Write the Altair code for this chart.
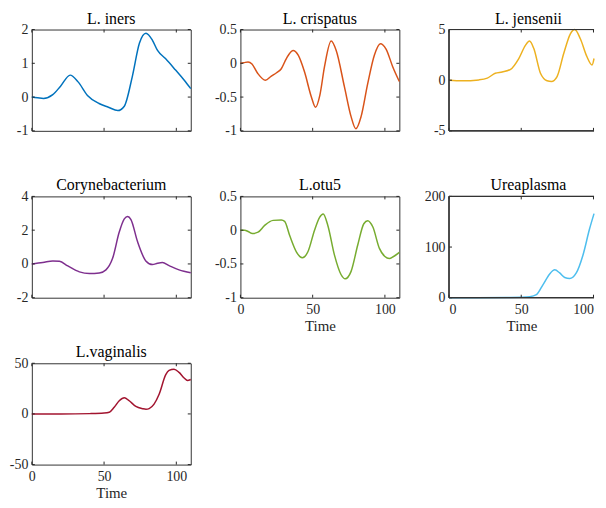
import altair as alt
import pandas as pd

FONT = "Liberation Serif"
W, H = 160, 102
W_CUT = 146  # visible width of the third column (the window cuts it)

titles = ["L. iners", "L. crispatus", "L. jensenii", "Corynebacterium", "L.otu5", "Ureaplasma", "L.vaginalis"]
colors = ["#0072BD", "#D95319", "#EDB120", "#7E2F8E", "#77AC30", "#4DBEEE", "#A2142F"]
y_domains = [[-1, 2], [-1, 0.5], [-5, 5], [-2, 4], [-1, 0.5], [0, 200], [-50, 50]]
y_ticks = [[-1, 0, 1, 2], [-1, -0.5, 0, 0.5], [-5, 0, 5], [-2, 0, 2, 4], [-1, -0.5, 0, 0.5], [0, 100, 200], [-50, 0, 50]]
x_ticks = [0, 50, 100]
x_max = 110
show_x = [False, False, False, False, True, True, True]
cut_panel = [False, False, True, False, False, True, False]

iners_t = [0, 4, 8, 14.5, 20, 26.5, 32, 38.5, 46.5, 53, 59.5, 64, 69.5, 74.5, 79, 83.5, 87, 92.5, 99.5, 105.5, 110]
iners_v = [0, -0.02, -0.04, 0.07, 0.33, 0.65, 0.45, 0.05, -0.19, -0.3, -0.40, -0.27, 0.6, 1.6, 1.89, 1.68, 1.38, 1.14, 0.8, 0.5, 0.25]

crispatus_t = [0, 2.5, 5.3, 8, 12, 17.3, 21.4, 25, 28.3, 31.8, 36.4, 40, 44.4, 49, 52, 55, 58.2, 62.8, 66.3, 72, 76.6, 79.9, 83.5, 88.1, 92.7, 96.9, 100.8, 105.4, 110]
crispatus_v = [0, 0.01, 0.02, -0.01, -0.15, -0.25, -0.19, -0.14, -0.08, 0.07, 0.19, 0.12, -0.13, -0.49, -0.65, -0.47, -0.05, 0.33, 0.19, -0.35, -0.79, -0.97, -0.79, -0.30, 0.12, 0.29, 0.21, -0.05, -0.27]

jensenii_t = [0, 9, 20.7, 26.5, 32, 36.8, 42.6, 48.3, 52.9, 55.7, 58.7, 63.3, 67.9, 70.9, 74.8, 79.4, 84, 87, 90.9, 95.5, 99, 102.4, 106, 110]
jensenii_v = [0, -0.06, 0.03, 0.2, 0.68, 0.81, 1.07, 2.14, 3.44, 3.86, 3.12, 0.68, -0.06, -0.13, 0.36, 2.63, 4.58, 5.0, 4.09, 2.31, 1.5, 2.14, 2.8, 3.5]

coryne_t = [0, 7.6, 14.5, 19.1, 24.9, 32.9, 39.8, 46.7, 51.3, 55.9, 60.5, 64, 66.3, 68.6, 73.2, 78.9, 83.5, 87, 90.4, 95, 101.9, 110]
coryne_v = [0, 0.08, 0.18, 0.16, -0.12, -0.47, -0.57, -0.53, -0.35, 0.33, 1.89, 2.67, 2.81, 2.63, 1.31, 0.18, -0.04, 0.04, 0.08, -0.1, -0.35, -0.52]

otu5_t = [0, 3, 5.3, 8.3, 12.2, 16.8, 22.6, 28.3, 30.6, 34.1, 38.7, 42.8, 46.7, 51.3, 54.8, 57.3, 60.5, 65.1, 69.7, 72.5, 76.6, 81.2, 85.4, 88.1, 91.6, 96.2, 100, 103, 106, 110]
otu5_v = [0, 0, -0.02, -0.05, -0.03, 0.07, 0.145, 0.15, 0.13, -0.08, -0.32, -0.41, -0.32, 0, 0.19, 0.24, 0.07, -0.37, -0.66, -0.72, -0.61, -0.22, 0.095, 0.14, 0.05, -0.27, -0.39, -0.42, -0.39, -0.33]

urea_t = [0, 20, 40, 50, 55.9, 60.5, 65.1, 69.7, 73.2, 76.6, 80.1, 83.5, 88.1, 92.7, 97.3, 100.8, 103.6, 106, 110]
urea_v = [0, 0, 0.5, 1, 2, 6, 26, 47, 55, 49, 40, 38, 49, 84, 136, 166, 174, 175, 170]

vaginalis_t = [0, 20, 40, 50, 53.6, 57, 60.5, 64, 67.4, 72, 76.6, 79, 81.2, 84.6, 88.1, 92.7, 95, 98.4, 101.9, 105.4, 107.7, 110]
vaginalis_v = [0, 0, 0.3, 0.8, 1.6, 6.5, 13, 16, 13, 7.4, 5.2, 4.6, 5.3, 9.7, 19.4, 38.7, 42.9, 44.2, 41, 35.5, 33, 34]

series = [
    (iners_t, iners_v), (crispatus_t, crispatus_v), (jensenii_t, jensenii_v),
    (coryne_t, coryne_v), (otu5_t, otu5_v), (urea_t, urea_v), (vaginalis_t, vaginalis_v),
]

LABEL_EXPR = "datum.value < 0 ? '-' + abs(datum.value) : '' + datum.value"
TICK_COLOR = "#262626"
FRAME_COLOR = "#333333"


def panel(i):
    t, v = series[i]
    cut = cut_panel[i]
    w = W_CUT if cut else W
    x_edge = x_max * w / W  # last time value visible in the window
    if cut:
        # keep the points up to the first one past the window edge (clamped to the edge)
        k = next((j for j, tt in enumerate(t) if tt >= x_edge), len(t) - 1)
        t, v = t[:k + 1], v[:k + 1]
    df = pd.DataFrame({"t": t, "v": v})
    xs = alt.Scale(domain=[0, x_edge], nice=False, zero=False, clamp=True)
    ys = alt.Scale(domain=y_domains[i], nice=False, zero=False)
    if show_x[i]:
        xaxis = alt.Axis(values=x_ticks, ticks=False, domain=False, grid=False, title="Time",
                         labelPadding=5, titlePadding=2,
                         labelFlush=(5 if cut else False), labelOverlap=False,
                         labelExpr=LABEL_EXPR)
    else:
        xaxis = None
    yaxis = alt.Axis(values=y_ticks[i], ticks=False, domain=False, grid=False, title=None,
                     labelPadding=4, labelOverlap=False, labelExpr=LABEL_EXPR)

    line = alt.Chart(df).mark_line(color=colors[i], strokeWidth=1.5, interpolate="monotone").encode(
        x=alt.X("t:Q", scale=xs, axis=xaxis),
        y=alt.Y("v:Q", scale=ys, axis=yaxis),
    )
    xt = pd.DataFrame({"t": x_ticks})
    yt = pd.DataFrame({"v": y_ticks[i]})
    layers = [line]
    layers.append(alt.Chart(xt).mark_rule(color=TICK_COLOR, strokeWidth=1).encode(
        x=alt.X("t:Q", scale=xs, axis=xaxis), y=alt.value(H), y2=alt.value(H - 3)))
    layers.append(alt.Chart(xt).mark_rule(color=TICK_COLOR, strokeWidth=1).encode(
        x=alt.X("t:Q", scale=xs, axis=xaxis), y=alt.value(0), y2=alt.value(3)))
    layers.append(alt.Chart(yt).mark_rule(color=TICK_COLOR, strokeWidth=1).encode(
        y=alt.Y("v:Q", scale=ys, axis=yaxis), x=alt.value(0), x2=alt.value(3)))
    if not cut:
        layers.append(alt.Chart(yt).mark_rule(color=TICK_COLOR, strokeWidth=1).encode(
            y=alt.Y("v:Q", scale=ys, axis=yaxis), x=alt.value(W), x2=alt.value(W - 3)))
    else:
        # frame on three sides only: the right side lies beyond the window
        layers.append(alt.Chart(xt).mark_rule(color=FRAME_COLOR, strokeWidth=1).encode(
            x=alt.value(0), x2=alt.value(w), y=alt.value(0)))
        layers.append(alt.Chart(xt).mark_rule(color=FRAME_COLOR, strokeWidth=1).encode(
            x=alt.value(0), x2=alt.value(w), y=alt.value(H)))
        layers.append(alt.Chart(xt).mark_rule(color=FRAME_COLOR, strokeWidth=1).encode(
            x=alt.value(0), y=alt.value(0), y2=alt.value(H)))

    props = dict(
        width=w, height=H,
        title=alt.TitleParams(titles[i], font=FONT, fontSize=16, fontWeight="normal",
                              color="black", offset=-4, anchor="middle",
                              dx=(W - w) / 2),
    )
    if cut:
        props["view"] = alt.ViewBackground(stroke="transparent")
    return alt.layer(*layers).properties(**props)


chart = alt.concat(*[panel(i) for i in range(7)], columns=3,
                   spacing={"row": 66, "column": 50}, bounds="flush").properties(
    padding={"left": 0, "top": 0, "right": 0, "bottom": 0}
).configure_view(
    stroke=FRAME_COLOR, strokeWidth=1
).configure_axis(
    labelFont=FONT, labelFontSize=14, labelColor="#262626",
    titleFont=FONT, titleFontSize=15, titleFontWeight="normal", titleColor="#262626",
)

chart.save("out.html", embed_options={"renderer": "svg", "actions": False})
